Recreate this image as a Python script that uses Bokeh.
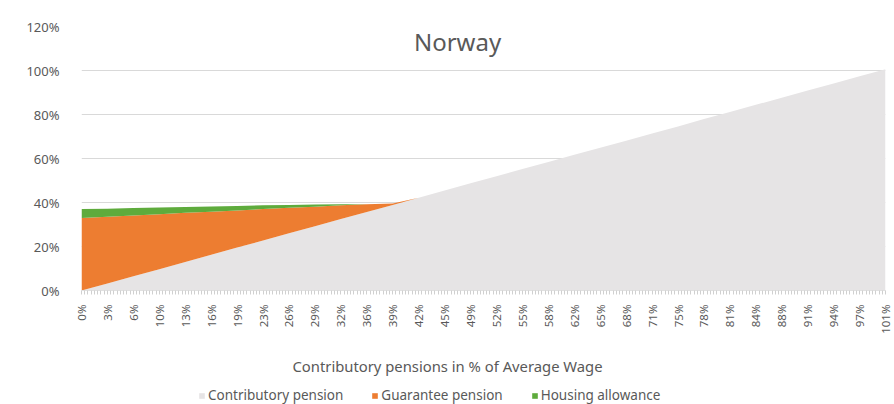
from bokeh.plotting import figure
from bokeh.layouts import column
from bokeh.models import (ColumnDataSource, Legend, LegendItem, NumeralTickFormatter,
                          Label, Range1d, FixedTicker)
from bokeh.embed import file_html
from bokeh.resources import INLINE

x_labels = ["0%", "3%", "6%", "10%", "13%", "16%", "19%", "23%", "26%", "29%", "32%",
            "36%", "39%", "42%", "45%", "49%", "52%", "55%", "58%", "62%", "65%", "68%",
            "71%", "75%", "78%", "81%", "84%", "88%", "91%", "94%", "97%", "101%"]
contributory = [0.0, 3.2, 6.5, 9.7, 13.0, 16.2, 19.5, 22.7, 26.0, 29.2, 32.5, 35.7, 38.9,
                42.2, 45.4, 48.7, 51.9, 55.2, 58.4, 61.7, 64.9, 68.1, 71.4, 74.6, 77.9,
                81.1, 84.4, 87.6, 90.9, 94.1, 97.4, 100.6]
guarantee = [33.0, 30.3, 27.6, 25.0, 22.3, 19.6, 16.9, 14.3, 11.6, 8.9, 6.2, 3.5, 0.7,
             0, 0, 0, 0, 0, 0, 0, 0, 0, 0, 0, 0, 0, 0, 0, 0, 0, 0, 0]
housing = [4.0, 3.7, 3.4, 3.0, 2.7, 2.4, 2.0, 1.7, 1.3, 1.0, 0.5, 0, 0,
           0, 0, 0, 0, 0, 0, 0, 0, 0, 0, 0, 0, 0, 0, 0, 0, 0, 0, 0]
series_names = ["Contributory pension", "Guarantee pension", "Housing allowance"]
x_title = "Contributory pensions in % of Average Wage"
chart_title = "Norway"
colors = ["#E6E4E5", "#ED7D31", "#5EAB3C"]

idx = list(range(len(x_labels)))
src = ColumnDataSource(dict(
    x=idx,
    contrib=[v / 100 for v in contributory],
    guar=[v / 100 for v in guarantee],
    hous=[v / 100 for v in housing],
))

FONT = "Noto Sans"
TXT = "#595959"

p = figure(width=894, height=342, output_backend="svg", toolbar_location=None,
           x_range=Range1d(0, len(x_labels) - 1), y_range=Range1d(0, 1.2),
           min_border_left=81, min_border_right=9, min_border_top=26, min_border_bottom=52)
p.outline_line_color = None
p.background_fill_color = "white"

renderers = p.varea_stack(["contrib", "guar", "hous"], x="x", source=src, color=colors)

# axes
p.yaxis.ticker = FixedTicker(ticks=[0, 0.2, 0.4, 0.6, 0.8, 1.0, 1.2])
p.yaxis.formatter = NumeralTickFormatter(format="0%")
p.yaxis.axis_line_color = None
p.yaxis.major_tick_line_color = None
p.yaxis.minor_tick_line_color = None
p.yaxis.major_label_text_font = FONT
p.yaxis.major_label_text_font_size = "13px"
p.yaxis.major_label_text_color = TXT
p.yaxis.major_label_standoff = 16

p.xaxis.ticker = FixedTicker(ticks=idx,
                             minor_ticks=[i + k / 8 for i in idx[:-1] for k in range(1, 8)])
p.xaxis.major_label_overrides = {i: lab for i, lab in enumerate(x_labels)}
p.xaxis.major_label_orientation = 1.5708
p.xaxis.major_label_text_font = FONT
p.xaxis.major_label_text_font_size = "11.5px"
p.xaxis.major_label_text_color = TXT
p.xaxis.major_label_standoff = 10
p.xaxis.axis_line_color = "#E0E0E0"
p.xaxis.major_tick_line_color = "#D0D0D0"
p.xaxis.minor_tick_line_color = "#D0D0D0"
p.xaxis.major_tick_out = 4
p.xaxis.major_tick_in = 0
p.xaxis.minor_tick_out = 4
p.xaxis.minor_tick_in = 0

p.xgrid.grid_line_color = None
p.ygrid.grid_line_color = "#D9D9D9"
p.ygrid.grid_line_width = 1

# chart title inside plot
p.add_layout(Label(x=14.5, y=1.13, text=chart_title, text_align="center",
                   text_baseline="middle", text_font=FONT, text_font_size="24px",
                   text_color=TXT))

# strip below: x-axis title and legend
p2 = figure(width=894, height=62, output_backend="svg", toolbar_location=None,
            x_range=Range1d(-10, -9), y_range=Range1d(-10, -9),
            min_border_left=0, min_border_right=0, min_border_top=0, min_border_bottom=0)
p2.axis.visible = False
p2.grid.visible = False
p2.outline_line_color = None
leg_renderers = p2.varea_stack(["contrib", "guar", "hous"], x="x", source=src, color=colors)

p2.add_layout(Label(x=211, y=39, x_units="screen", y_units="screen", text=x_title,
                    text_align="left", text_baseline="middle", text_font=FONT,
                    text_font_size="14.8px", text_color=TXT))

legend = Legend(items=[LegendItem(label=n, renderers=[r]) for n, r in zip(series_names, leg_renderers)],
                orientation="horizontal", location=(117, 0), padding=2, margin=0,
                spacing=28, label_standoff=3, glyph_width=7, glyph_height=7,
                label_text_font=FONT, label_text_font_size="13.5px", label_text_color=TXT,
                border_line_color=None, background_fill_alpha=0)
p2.add_layout(legend, "center")

layout = column(p, p2, spacing=0)
open("out.html", "w").write(file_html(layout, INLINE))
